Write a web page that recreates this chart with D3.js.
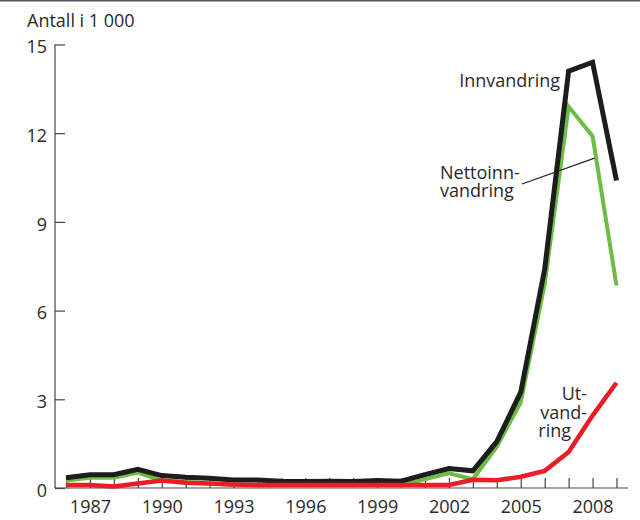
<!DOCTYPE html>
<html>
<head>
<meta charset="utf-8">
<script src="https://cdn.jsdelivr.net/npm/d3@7"></script>
<style>
  html, body { margin: 0; padding: 0; background: #fff; }
  svg { display: block; font-family: "Open Sans", sans-serif; }
</style>
</head>
<body>
<svg id="chart" width="640" height="520"></svg>
<script>
const years = d3.range(1986, 2010);
const innvandring = [0.35, 0.45, 0.45, 0.63, 0.42, 0.36, 0.33, 0.27, 0.27, 0.23, 0.22, 0.23, 0.22, 0.25, 0.23, 0.45, 0.66, 0.58, 1.57, 3.24, 7.4, 14.1, 14.4, 10.4];
const nettoinnvandring = [0.25, 0.35, 0.35, 0.52, 0.25, 0.2, 0.15, 0.1, 0.06, 0.08, 0.08, 0.08, 0.08, 0.1, 0.08, 0.3, 0.5, 0.3, 1.4, 2.9, 6.9, 12.9, 11.9, 6.85];
const utvandring = [0.1, 0.1, 0.05, 0.15, 0.25, 0.18, 0.15, 0.12, 0.1, 0.1, 0.1, 0.1, 0.1, 0.1, 0.1, 0.1, 0.1, 0.28, 0.26, 0.38, 0.58, 1.22, 2.45, 3.56];
const yTicks = [0, 3, 6, 9, 12, 15];
const xLabelYears = [1987, 1990, 1993, 1996, 1999, 2002, 2005, 2008];
const yTitle = "Antall i 1 000";

const svg = d3.select("#chart");
const x = d3.scaleLinear().domain([1986, 2009]).range([66, 616.5]);
const y = d3.scaleLinear().domain([0, 15]).range([488, 44.5]);
const axisColor = "#444";
const textColor = "#2a2a2a";
const fontSize = 18;

// top rule
svg.append("line").attr("x1", 0).attr("x2", 640).attr("y1", 0.75).attr("y2", 0.75)
  .attr("stroke", "#555").attr("stroke-width", 1.5);

// title
svg.append("text").attr("x", 27).attr("y", 27).attr("fill", textColor)
  .attr("font-size", fontSize).text(yTitle);

// y axis
const yAxisX = x(1986) - 11;
const yAxis = d3.axisLeft(y).tickValues(yTicks).tickSizeInner(-10).tickSizeOuter(0).tickPadding(8).tickFormat(d3.format("d"));
const gy = svg.append("g").attr("transform", `translate(${yAxisX},0)`).call(yAxis);
gy.select(".domain").remove();
gy.selectAll(".tick line").attr("stroke", axisColor).attr("stroke-width", 1.2);
gy.selectAll(".tick text").attr("fill", textColor).attr("font-size", fontSize).attr("font-family", "Open Sans, sans-serif").attr("dy", "0.45em");
svg.append("line").attr("x1", yAxisX).attr("x2", yAxisX).attr("y1", y(15)).attr("y2", y(0))
  .attr("stroke", axisColor).attr("stroke-width", 1.2);

// x axis
const xAxis = d3.axisBottom(x).tickValues(years).tickSizeInner(-10).tickSizeOuter(0).tickPadding(12)
  .tickFormat(d => xLabelYears.includes(d) ? String(d) : "");
const gx = svg.append("g").attr("transform", `translate(0,${y(0)})`).call(xAxis);
gx.select(".domain").remove();
gx.selectAll(".tick line").attr("stroke", axisColor).attr("stroke-width", 1.2);
gx.selectAll(".tick text").attr("fill", textColor).attr("font-size", fontSize).attr("font-family", "Open Sans, sans-serif");
svg.append("line").attr("x1", yAxisX).attr("x2", x(2009) + 11.5).attr("y1", y(0)).attr("y2", y(0))
  .attr("stroke", axisColor).attr("stroke-width", 1.2);

// lines
const line = d3.line().x((d, i) => x(years[i])).y(d => y(d));
const series = [
  { values: nettoinnvandring, color: "#6cbd45", width: 4 },
  { values: innvandring, color: "#1d1d1b", width: 5 },
  { values: utvandring, color: "#ec1c24", width: 4.5 }
];
series.forEach(s => {
  svg.append("path").datum(s.values).attr("d", line)
    .attr("fill", "none").attr("stroke", s.color).attr("stroke-width", s.width)
    .attr("stroke-linejoin", "miter").attr("stroke-linecap", "butt");
});

// annotations
const ann = svg.append("g").attr("fill", textColor).attr("font-size", fontSize);
ann.append("text").attr("x", 560).attr("y", 87).attr("text-anchor", "end").text("Innvandring");

const netto = ann.append("text").attr("x", 440).attr("y", 179);
netto.append("tspan").attr("x", 440).text("Nettoinn-");
netto.append("tspan").attr("x", 440).attr("dy", 18).text("vandring");

svg.append("line")
  .attr("x1", 522).attr("y1", 184)
  .attr("x2", x(2008) + 2).attr("y2", y(nettoinnvandring[22]) + 22)
  .attr("stroke", "#222").attr("stroke-width", 1.2);

const ut = ann.append("text").attr("x", 587).attr("y", 400).attr("text-anchor", "end");
ut.append("tspan").attr("x", 587).text("Ut-");
ut.append("tspan").attr("x", 587).attr("dy", 19).text("vand-");
ut.append("tspan").attr("x", 571).attr("dy", 18).text("ring");
</script>
</body>
</html>
